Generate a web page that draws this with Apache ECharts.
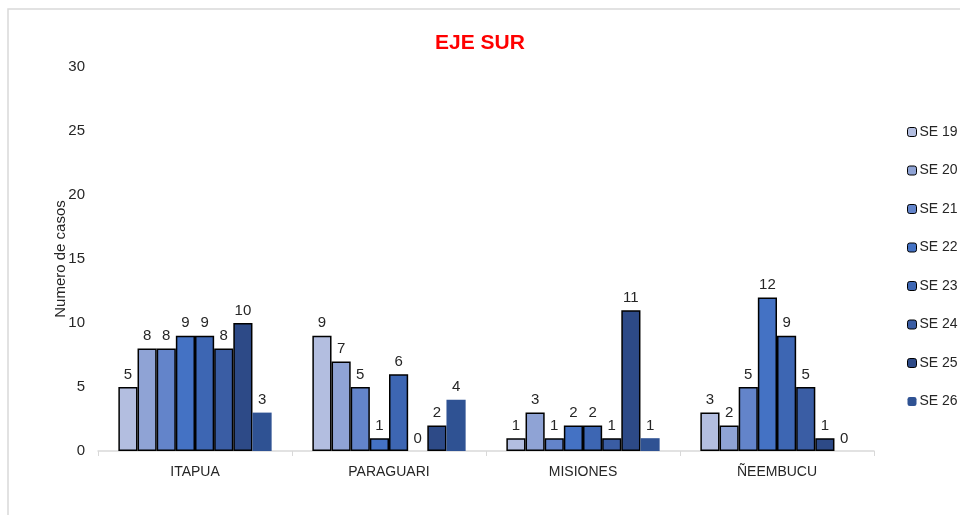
<!DOCTYPE html>
<html><head><meta charset="utf-8">
<script src="https://cdn.jsdelivr.net/npm/echarts@6/dist/echarts.min.js"></script>
<style>html,body{margin:0;padding:0;background:#fff}#c{width:960px;height:515px}</style>
</head><body><div id="c"></div>
<script>
const categories = ['ITAPUA', 'PARAGUARI', 'MISIONES', 'ÑEEMBUCU'];
const seriesNames = ['SE 19', 'SE 20', 'SE 21', 'SE 22', 'SE 23', 'SE 24', 'SE 25', 'SE 26'];
const se19 = [5, 9, 1, 3];
const se20 = [8, 7, 3, 2];
const se21 = [8, 5, 1, 5];
const se22 = [9, 1, 2, 12];
const se23 = [9, 6, 2, 9];
const se24 = [8, 0, 1, 5];
const se25 = [10, 2, 11, 1];
const se26 = [3, 4, 1, 0];
const yTicks = [0, 5, 10, 15, 20, 25, 30];
const allData = [se19, se20, se21, se22, se23, se24, se25, se26];
const colors = ['#b3bee0', '#8fa3d5', '#6384ca', '#4472c4', '#3d66b3', '#3a5da4', '#2d4a87', '#2f5293'];
const FONT = '"Liberation Sans", Arial';

const chart = echarts.init(document.getElementById('c'));
const series = allData.map((d, i) => ({
  name: seriesNames[i],
  type: 'bar',
  data: d.map(v => v === 0 ? { value: v, itemStyle: { borderWidth: 0, borderColor: 'transparent' } } : v),
  barGap: '0%',
  barCategoryGap: '21%',
  itemStyle: {
    color: colors[i],
    borderColor: i < 7 ? '#000' : 'transparent',
    borderWidth: i < 7 ? 1.5 : 0
  },
  label: {
    show: true, position: 'top', distance: 5,
    fontFamily: FONT, fontSize: 15, color: '#262626'
  }
}));

chart.setOption({
  animation: false,
  backgroundColor: '#fff',
  graphic: [{
    type: 'rect', shape: { x: 8, y: 9, width: 1000, height: 600 },
    style: { fill: 'none', stroke: '#d9d9d9', lineWidth: 1.5 }, z: -1
  }],
  title: {
    text: 'EJE SUR', left: 'center', top: 28,
    textStyle: { color: '#ff0000', fontSize: 21, fontWeight: 'bold', fontFamily: FONT }
  },
  legend: {
    orient: 'vertical', left: 902, top: 120,
    itemWidth: 9, itemHeight: 9, itemGap: 24.5,
    data: seriesNames.map((n, i) => ({ name: n, itemStyle: { borderColor: i < 7 ? '#000' : 'transparent', borderWidth: i < 7 ? 1 : 0 } })),
    textStyle: { fontFamily: FONT, fontSize: 14, color: '#262626', padding: [0, 0, 0, -2] }
  },
  grid: { left: 98, right: 86, top: 67, bottom: 64 },
  xAxis: {
    type: 'category', data: categories,
    axisLine: { lineStyle: { color: '#d9d9d9', width: 1.5 } },
    axisTick: { show: true, length: 5, lineStyle: { color: '#d9d9d9' } },
    axisLabel: { fontFamily: FONT, fontSize: 14, color: '#262626', margin: 14 }
  },
  yAxis: {
    type: 'value', min: 0, max: 30, interval: 5,
    name: 'Numero de casos', nameLocation: 'middle', nameGap: 30, nameMoveOverlap: false,
    nameTextStyle: { fontFamily: FONT, fontSize: 15, color: '#262626' },
    axisLine: { show: false }, axisTick: { show: false },
    splitLine: { show: false },
    axisLabel: { fontFamily: FONT, fontSize: 15, color: '#262626', margin: 13,
      formatter: v => yTicks.includes(v) ? String(v) : '' }
  },
  series: series
});
</script></body></html>
